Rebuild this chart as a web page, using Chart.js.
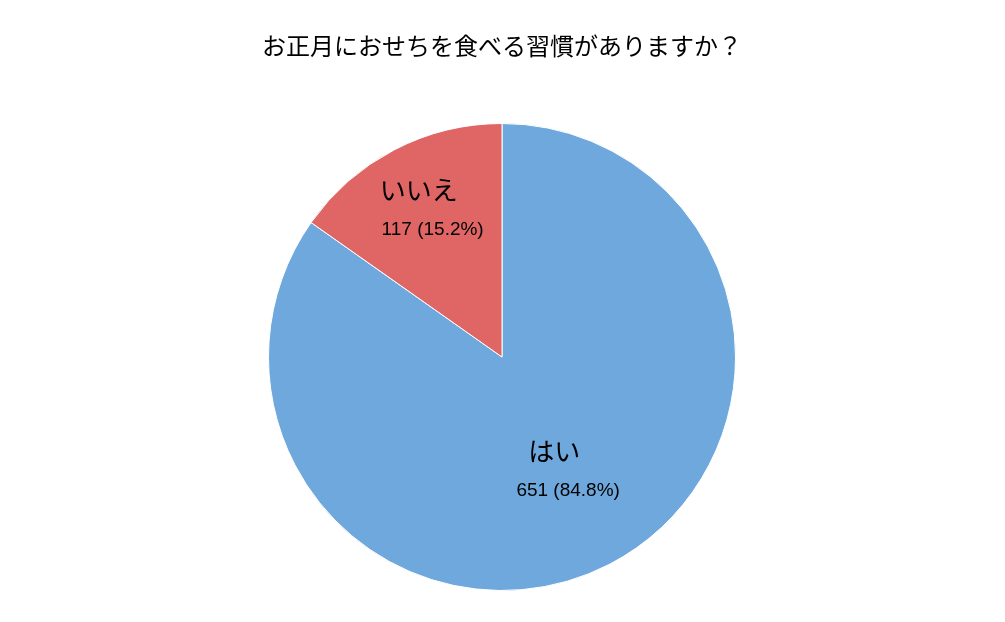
<!DOCTYPE html>
<html><head><meta charset="utf-8">
<script src="https://cdn.jsdelivr.net/npm/chart.js@4"></script>
<style>html,body{margin:0;padding:0;background:#fff}#w{width:1005px;height:622px}</style>
</head><body><div id="w"><canvas id="c"></canvas></div>
<script>
const titleText = 'お正月におせちを食べる習慣がありますか？';
const categories = ['はい', 'いいえ'];
const values = [651, 117];
const percents = ['84.8%', '15.2%'];
const colors = ['#6fa8dc', '#e06666'];
const labelFrac = [0.55, 0.71];
const FONT = '"Liberation Sans", "Noto Sans CJK JP", sans-serif';

const labelPlugin = {
  id: 'lbl',
  afterDraw(chart) {
    const ctx = chart.ctx;
    ctx.save();
    ctx.fillStyle = '#000';
    ctx.textAlign = 'center';
    ctx.textBaseline = 'middle';
    ctx.font = '24px ' + FONT;
    ctx.fillText(titleText, 502, 48);
    chart.getDatasetMeta(0).data.forEach((arc, i) => {
      const mid = (arc.startAngle + arc.endAngle) / 2;
      const r = arc.outerRadius * labelFrac[i];
      const x = arc.x + Math.cos(mid) * r, y = arc.y + Math.sin(mid) * r;
      ctx.font = '26px ' + FONT;
      ctx.fillText(categories[i], x - 7, y - 17);
      ctx.font = '19px ' + FONT;
      ctx.fillText(values[i] + ' (' + percents[i] + ')', x + 7, y + 20);
    });
    ctx.restore();
  }
};

new Chart(document.getElementById('c'), {
  type: 'pie',
  data: { labels: categories, datasets: [{ data: values, backgroundColor: colors, borderColor: '#fff', borderWidth: 1 }] },
  options: {
    responsive: true, maintainAspectRatio: false, animation: false,
    layout: { padding: { top: 123, bottom: 31, left: 268, right: 269 } },
    plugins: { legend: { display: false }, tooltip: { enabled: false } }
  },
  plugins: [labelPlugin]
});
</script></body></html>
